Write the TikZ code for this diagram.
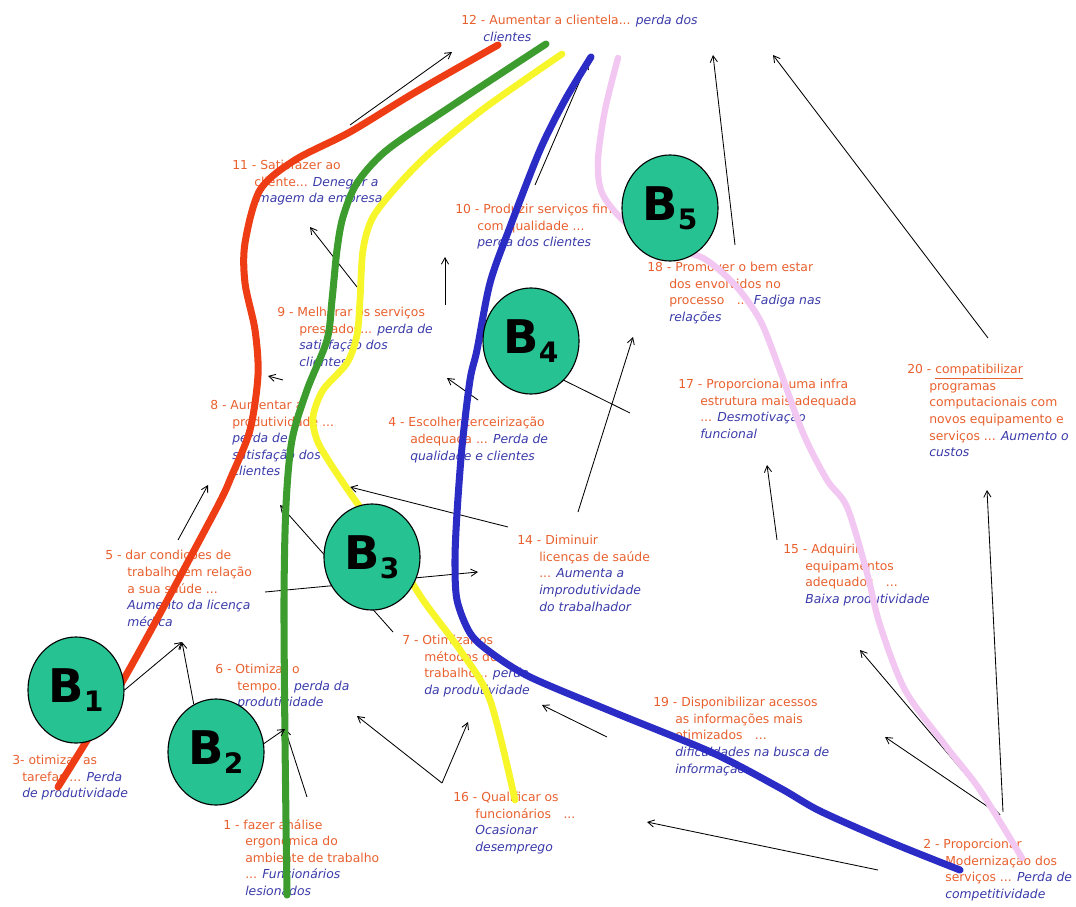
\documentclass[tikz,border=0pt]{standalone}
\usepackage{fontspec}
\setmainfont{DejaVu Sans}
\usetikzlibrary{arrows.meta,shapes.geometric}
\definecolor{actorange}{HTML}{E8602E}
\definecolor{consblue}{HTML}{3A3AAA}
\definecolor{loopred}{HTML}{EE3C14}
\definecolor{loopgreen}{HTML}{3C9C2E}
\definecolor{loopyellow}{HTML}{F6F62A}
\definecolor{loopblue}{HTML}{2B2BC6}
\definecolor{looppink}{HTML}{F2C8F2}
\definecolor{bfill}{HTML}{26C292}
\newcommand{\cons}[1]{{\color{consblue}\itshape #1}}
\newcommand{\ind}{\hspace*{0.55cm}}
\newcommand{\bsub}[1]{\raisebox{-0.35ex}{\fontsize{20}{20}\selectfont #1}}

\begin{document}
\begin{tikzpicture}[x=0.025cm,y=-0.025cm,
  acttext/.style={anchor=north west,inner sep=0pt,align=left,text=actorange,
    font=\fontsize{8.8}{11.8}\selectfont,execute at begin node=\strut},
  fbline/.style={line width=5pt,line cap=round,line join=round},
  bnode/.style={ellipse,draw=black,line width=0.8pt,fill=bfill,minimum width=2.4cm,
    minimum height=2.65cm,inner sep=0pt,font=\fontsize{33}{33}\selectfont\bfseries},
  arr/.style={-{Straight Barb[length=1.6mm,width=1.8mm]},line width=0.6pt}]
  \useasboundingbox (0,0) rectangle (1076,906);

  % actions ... consequences
  \node[acttext] (t12) at (461,15) {12 - Aumentar a clientela... \cons{perda dos}\\\ind\cons{clientes}};
  \node[acttext] (t11) at (232,160) {11 - Satisfazer ao\\\ind cliente... \cons{Denegrir a}\\\ind\cons{imagem da empresa}};
  \node[acttext] (t10) at (455,204) {10 - Produzir serviços fim\\\ind com qualidade ...\\\ind\cons{perda dos clientes}};
  \node[acttext] (t18) at (647,262) {18 - Promover o bem estar\\\ind dos envolvidos no\\\ind processo\quad... \cons{Fadiga nas}\\\ind\cons{relações}};
  \node[acttext] (t9) at (277,307) {9 - Melhorar os serviços\\\ind prestados... \cons{perda de}\\\ind\cons{satisfação dos}\\\ind\cons{clientes}};
  \node[acttext] (t8) at (210,400) {8 - Aumentar a\\\ind produtividade ...\\\ind\cons{perda de}\\\ind\cons{satisfação dos}\\\ind\cons{clientes}};
  \node[acttext] (t4) at (388,417) {4 - Escolher terceirização\\\ind adequada ... \cons{Perda de}\\\ind\cons{qualidade e clientes}};
  \node[acttext] (t17) at (678,379) {17 - Proporcionar uma infra\\\ind estrutura mais adequada\\\ind ... \cons{Desmotivação}\\\ind\cons{funcional}};
  \node[acttext] (t20) at (907,364) {20 - \underline{compatibilizar}\\\ind programas\\\ind computacionais com\\\ind novos equipamento e\\\ind serviços ... \cons{Aumento o}\\\ind\cons{custos}};
  \node[acttext] (t14) at (517,535) {14 - Diminuir\\\ind licenças de saúde\\\ind ... \cons{Aumenta a}\\\ind\cons{improdutividade}\\\ind\cons{do trabalhador}};
  \node[acttext] (t15) at (783,544) {15 - Adquirir\\\ind equipamentos\\\ind adequados\quad...\\\ind\cons{Baixa produtividade}};
  \node[acttext] (t5) at (105,550) {5 - dar condições de\\\ind trabalho em relação\\\ind a sua saúde ...\\\ind\cons{Aumento da licença}\\\ind\cons{médica}};
  \node[acttext] (t7) at (402,635) {7 - Otimizar os\\\ind métodos de\\\ind trabalho... \cons{perda}\\\ind\cons{da produtividade}};
  \node[acttext] (t6) at (215,664) {6 - Otimizar o\\\ind tempo... \cons{perda da}\\\ind\cons{produtividade}};
  \node[acttext] (t19) at (653,697) {19 - Disponibilizar acessos\\\ind as informações mais\\\ind otimizados\quad...\\\ind\cons{dificuldades na busca de}\\\ind\cons{informação}};
  \node[acttext] (t3) at (12,755) {3- otimizar as\\\hspace*{0.25cm}tarefas ... \cons{Perda}\\\hspace*{0.25cm}\cons{de produtividade}};
  \node[acttext] (t16) at (453,792) {16 - Qualificar os\\\ind funcionários\quad...\\\ind\cons{Ocasionar}\\\ind\cons{desemprego}};
  \node[acttext] (t1) at (223,819) {1 - fazer análise\\\ind ergonômica do\\\ind ambiente de trabalho\\\ind ... \cons{Funcionários}\\\ind\cons{lesionados}};
  \node[acttext] (t2) at (923,839) {2 - Proporcionar\\\ind Modernização dos\\\ind serviços ... \cons{Perda de}\\\ind\cons{competitividade}};

  % arrow ends
  \foreach \n/\x/\y in {s1/350/125, e1/452/52, s2/735/245, e2/713/55, s3/988/338, e3/773/55,
      s4/535/185, e4/588/62, s5/357/287, e5/310/227, s6/445/305, e6/445/257,
      s7/283/380, e7/268/376, s8/478/400, e8/447/378, k9/630/413, s10/578/512, e10/633/337,
      s11/508/527, e11/350/487, s12/265/592, e12/478/572, s13/393/632, e13/280/505,
      e14/182/642, s16/178/540, e16/208/485, e17/285/729, s18/307/797,
      s19/442/783, e19/357/716, e20/468/722, s21/607/737, e21/542/705,
      s22/878/870, e22/647/822, s23/1000/815, e23/860/650, e24/885/737,
      s25/1003/812, e25/987/490, s26/777/540, e26/767/465}
    \coordinate (\n) at (\x,\y);

  \foreach \a/\b in {s1/e1, s2/e2, s3/e3, s4/e4, s5/e5, s6/e6, s7/e7, s8/e8, s10/e10,
      s11/e11, s12/e12, s13/e13, s16/e16, s18/e17, s19/e19, s19/e20, s21/e21,
      s22/e22, s23/e23, s23/e24, s25/e25, s26/e26}
    \draw[arr] (\a) -- (\b);

  % loops
  \draw[fbline,looppink,line width=4.5pt] plot[smooth] coordinates {(618,58) (605,110) (598,160) (602,193) (625,222) (665,247) (703,258) (735,285) (760,320) (778,365) (803,433) (827,480) (847,507) (867,573) (880,625) (905,690) (945,745) (980,790) (1022,858)};
  \draw[fbline,loopblue] plot[smooth] coordinates {(591,57) (565,100) (540,150) (510,227) (490,283) (477,350) (470,380) (462,447) (457,513) (455,560) (457,600) (470,633) (490,652) (530,677) (613,712) (713,753) (780,788) (820,811) (890,842) (960,870)};
  \draw[fbline,loopyellow,line width=4.8pt] plot[smooth] coordinates {(562,54) (486,107) (433,150) (400,183) (373,217) (363,250) (360,300) (357,335) (347,363) (323,390) (313,417) (317,440) (330,463) (357,503) (395,555) (423,600) (460,650) (490,700) (515,800)};
  \draw[fbline,loopgreen] plot[smooth] coordinates {(546,44) (450,107) (387,150) (357,183) (343,217) (337,250) (332,300) (327,340) (307,390) (292,440) (286,505) (284,600) (285,740) (287,895)};
  \draw[fbline,loopred] plot[smooth] coordinates {(498,45) (414,93) (350,132) (295,160) (260,190) (245,243) (245,283) (255,330) (258,375) (250,430) (232,475) (213,515) (125,677) (58,787)};

  % loops B1 ... B5
  \node[bnode] (B1) at (76,690) {B\bsub{1}};
  \node[bnode] (B2) at (216,752) {B\bsub{2}};
  \node[bnode] (B3) at (372,557) {B\bsub{3}};
  \node[bnode] (B4) at (531,341) {B\bsub{4}};
  \node[bnode] (B5) at (670,208) {B\bsub{5}};

  \draw[arr] (B1.east) -- (e14);
  \draw[arr] (B2.115) -- (e14);
  \draw[arr] (B2.10) -- (e17);
  \draw[line width=0.6pt] (B4.-50) -- (k9);
\end{tikzpicture}
\end{document}
